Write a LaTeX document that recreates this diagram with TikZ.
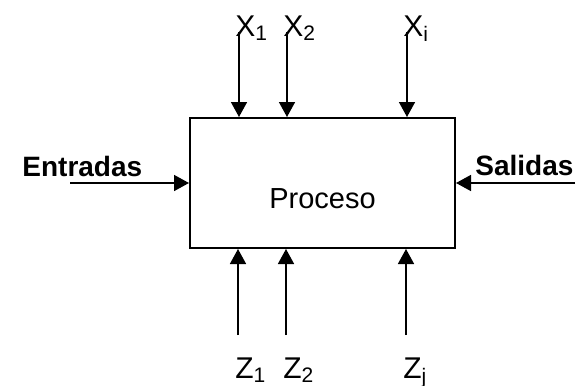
\documentclass[tikz,border=0pt]{standalone}
\usepackage{fontspec}
\setmainfont{Liberation Sans}
\usetikzlibrary{arrows.meta,positioning}

\begin{document}
\begin{tikzpicture}[x=0.5pt, y=-0.5pt, >={Triangle[length=7.5pt,width=8pt]}]
  \tikzstyle{process} = [rectangle, draw, line width=1pt, minimum width=132.5pt, minimum height=65pt, inner sep=0pt]
  \tikzstyle{signal} = [line width=0.8pt]
  \tikzstyle{var} = [font=\fontsize{15}{17}\selectfont, inner sep=0pt, anchor=base west]
  \tikzstyle{flow} = [font=\fontsize{14}{16}\selectfont\bfseries, inner sep=0pt, anchor=base west]

  \useasboundingbox (0,0) rectangle (585,386);

  \node [process] (proceso) at (322.5,183) {};
  \node [font=\fontsize{14.5}{17}\selectfont, inner sep=0pt] (ptext) at ([yshift=-8pt]proceso.center) {Proceso};

  % entradas desde arriba
  \coordinate (x1) at (239,32);
  \coordinate (x2) at (287,32);
  \coordinate (xi) at (407,32);
  \node [var] (lx1) at (235,36) {X\textsubscript{1}};
  \node [var] (lx2) at (283,36) {X\textsubscript{2}};
  \node [var] (lxi) at (403,36) {X\textsubscript{i}};
  \draw [signal,->] (x1) -- (x1 |- proceso.north);
  \draw [signal,->] (x2) -- (x2 |- proceso.north);
  \draw [signal,->] (xi) -- (xi |- proceso.north);

  % entradas desde abajo
  \coordinate (z1) at (238,335);
  \coordinate (z2) at (286,335);
  \coordinate (zj) at (406,335);
  \node [var] (lz1) at (235,378) {Z\textsubscript{1}};
  \node [var] (lz2) at (283,378) {Z\textsubscript{2}};
  \node [var] (lzj) at (403,378) {Z\textsubscript{j}};
  \draw [signal,->] (z1) -- (z1 |- proceso.south);
  \draw [signal,->] (z2) -- (z2 |- proceso.south);
  \draw [signal,->] (zj) -- (zj |- proceso.south);

  % laterales
  \coordinate (ein) at (70,183);
  \coordinate (sout) at (575,183);
  \node [flow] (lent) at (22,176) {Entradas};
  \node [flow] (lsal) at (475,175) {Salidas};
  \draw [signal,->] (ein) -- (proceso.west);
  \draw [signal,->] (sout) -- (proceso.east);
\end{tikzpicture}
\end{document}
